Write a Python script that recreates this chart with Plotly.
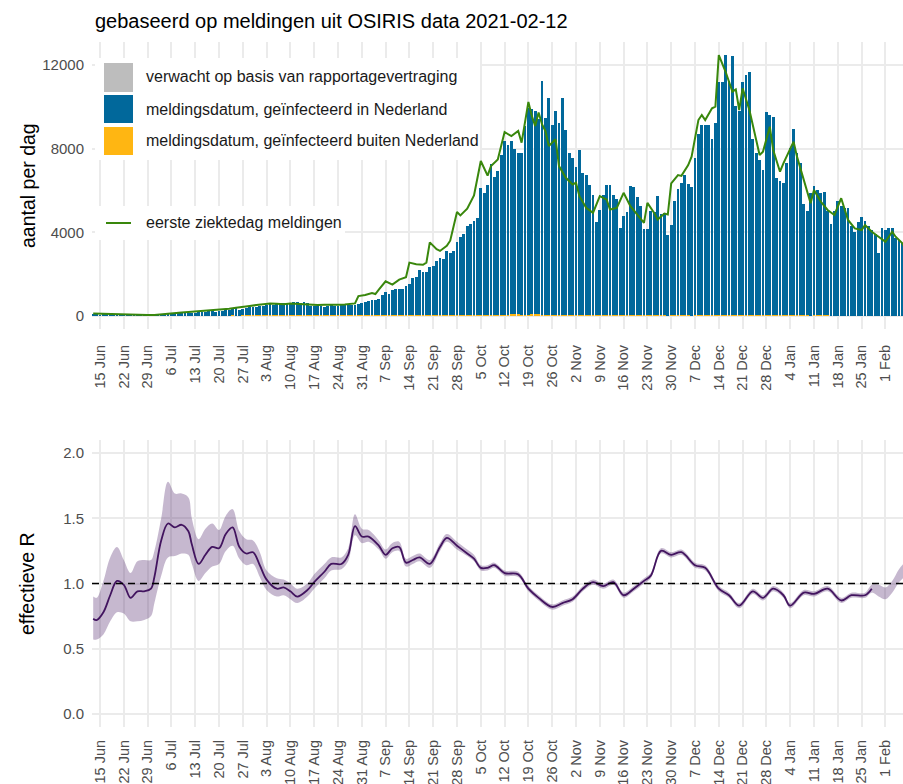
import pandas as pd
import plotly.graph_objects as go

FONT = "Liberation Sans"
W, H = 903, 784
L = 92  # left margin in px

# ---- data ----
first_day = "2020-06-13"

# meldingsdatum, geinfecteerd in Nederland (per day from 13 Jun 2020)
nl_cases = [
    60, 50,
    40, 70, 60, 55, 80, 50, 45,
    40, 55, 60, 50, 65, 55, 40,
    45, 60, 70, 80, 90, 85, 70,
    100, 120, 130, 140, 150, 130, 120,
    150, 170, 160, 180, 200, 210, 180,
    200, 230, 260, 250, 300, 340, 290,
    330, 370, 390, 420, 400, 450, 440,
    480, 520, 500, 540, 580, 560, 520,
    600, 640, 630, 590, 620, 560, 450,
    430, 420, 440, 400, 450, 470, 440,
    420, 460, 480, 470, 460, 490, 530,
    560, 600, 650, 700, 720, 775, 935,
    1100, 1015, 1180, 1225, 1225, 1260, 1400,
    1500, 1775, 1820, 2145, 2030, 2065, 2305,
    2355, 2550, 2740, 2680, 3030, 2950, 3030,
    3480, 3710, 3840, 4240, 4355, 4480, 4650,
    6050, 5810, 6210, 7200, 6600, 6850, 7650,
    8290, 8130, 8320, 7940, 7730, 7730, 9000,
    9890, 9810, 9730, 9330, 11170, 9410, 10370,
    9090, 9730, 9170, 10370, 8850, 7730, 7490,
    7090, 7890, 6770, 6690, 6210, 5730, 4450,
    5010, 5730, 6210, 6210, 5730, 5570, 4160,
    4770, 4930, 6210, 6130, 5650, 5250, 4130,
    4130, 5010, 4930, 5730, 4830, 4910, 3870,
    4350, 5470, 6030, 6340, 6700, 6310, 6140,
    7540, 8660, 9130, 9090, 9130, 8450, 9210,
    11160, 11160, 12480, 11200, 12400, 10010, 9770,
    11160, 11520, 11640, 8420, 7780, 7460, 6980,
    9720, 9610, 9500, 6580, 6420, 6340, 7300,
    8000, 8930, 7780, 7300, 5310, 4990, 5870,
    6180, 6000, 5850, 5900, 5000, 4400, 5000,
    5470, 5230, 5140, 5150, 4280, 4000, 4500,
    4700, 4530, 4300, 4100, 3900, 3000, 4200,
    4100, 4200, 4200, 3700, 3600, 3500,
]

# meldingsdatum, geinfecteerd buiten Nederland
abroad_cases = [
    3, 3,
    4, 4, 5, 5, 4, 3, 3,
    4, 5, 5, 6, 5, 4, 4,
    5, 6, 6, 7, 8, 7, 6,
    8, 9, 10, 10, 12, 10, 9,
    12, 14, 15, 15, 16, 14, 12,
    15, 18, 20, 20, 22, 20, 18,
    22, 25, 28, 30, 30, 28, 25,
    30, 35, 35, 38, 40, 38, 35,
    40, 42, 45, 45, 45, 40, 35,
    40, 42, 45, 45, 45, 42, 40,
    42, 45, 45, 48, 48, 45, 42,
    45, 48, 50, 50, 52, 50, 48,
    50, 52, 52, 55, 55, 52, 50,
    52, 54, 55, 55, 56, 54, 52,
    54, 55, 56, 56, 58, 56, 55,
    56, 58, 60, 60, 60, 58, 56,
    60, 62, 64, 66, 68, 64, 60,
    66, 68, 70, 70, 70, 66, 64,
    68, 70, 70, 70, 68, 64, 60,
    64, 65, 64, 62, 60, 55, 52,
    50, 48, 46, 44, 42, 40, 38,
    38, 36, 35, 35, 34, 32, 30,
    30, 30, 30, 28, 28, 26, 25,
    25, 25, 24, 24, 24, 22, 20,
    22, 22, 24, 24, 24, 22, 20,
    22, 24, 25, 25, 25, 24, 22,
    24, 25, 26, 27, 27, 26, 25,
    25, 26, 27, 26, 24, 22, 22,
    24, 26, 27, 27, 24, 22, 22,
    25, 27, 28, 26, 25, 22, 20,
    22, 24, 24, 22, 22, 20, 18,
    19, 20, 20, 19, 19, 16, 15,
    16, 18, 18, 16, 16, 13, 13,
    15, 15, 15, 15, 13, 12,
]

# eerste ziektedag meldingen
illness_dates = [
    "2020-06-13", "2020-06-15", "2020-06-17", "2020-06-19", "2020-06-21",
    "2020-06-23", "2020-06-25", "2020-06-27", "2020-06-29", "2020-07-01",
    "2020-07-03", "2020-07-05", "2020-07-07", "2020-07-09", "2020-07-11",
    "2020-07-13", "2020-07-15", "2020-07-17", "2020-07-19", "2020-07-21",
    "2020-07-23", "2020-07-25", "2020-07-27", "2020-07-29", "2020-07-31",
    "2020-08-02", "2020-08-04", "2020-08-06", "2020-08-08", "2020-08-10",
    "2020-08-12", "2020-08-14", "2020-08-16", "2020-08-18", "2020-08-20",
    "2020-08-22", "2020-08-24", "2020-08-26", "2020-08-28", "2020-08-29",
    "2020-08-30", "2020-09-01", "2020-09-03", "2020-09-04", "2020-09-05",
    "2020-09-07", "2020-09-09", "2020-09-11", "2020-09-13", "2020-09-14",
    "2020-09-16", "2020-09-18", "2020-09-19", "2020-09-20", "2020-09-22",
    "2020-09-23", "2020-09-25", "2020-09-26", "2020-09-28", "2020-09-29",
    "2020-10-01", "2020-10-03", "2020-10-05", "2020-10-07", "2020-10-08",
    "2020-10-10", "2020-10-12", "2020-10-14", "2020-10-16", "2020-10-17",
    "2020-10-19", "2020-10-20", "2020-10-21", "2020-10-22", "2020-10-23",
    "2020-10-24", "2020-10-25", "2020-10-27", "2020-10-28", "2020-10-30",
    "2020-11-01", "2020-11-02", "2020-11-03", "2020-11-05", "2020-11-07",
    "2020-11-09", "2020-11-11", "2020-11-12", "2020-11-14", "2020-11-16",
    "2020-11-18", "2020-11-20", "2020-11-22", "2020-11-23", "2020-11-25",
    "2020-11-26", "2020-11-28", "2020-11-29", "2020-11-30", "2020-12-02",
    "2020-12-03", "2020-12-05", "2020-12-06", "2020-12-08", "2020-12-09",
    "2020-12-10", "2020-12-12", "2020-12-13", "2020-12-14", "2020-12-16",
    "2020-12-18", "2020-12-19", "2020-12-20", "2020-12-21", "2020-12-23",
    "2020-12-25", "2020-12-26", "2020-12-27", "2020-12-29", "2020-12-30",
    "2021-01-01", "2021-01-02", "2021-01-05", "2021-01-06", "2021-01-08",
    "2021-01-10", "2021-01-11", "2021-01-13", "2021-01-15", "2021-01-17",
    "2021-01-19", "2021-01-21", "2021-01-23", "2021-01-25", "2021-01-26",
    "2021-01-28", "2021-01-30", "2021-02-01", "2021-02-03", "2021-02-04",
    "2021-02-06", "2021-02-07",
]
illness_cases = [
    120, 110, 95, 100, 60,
    50, 40, 35, 40, 50,
    70, 90, 130, 160, 190,
    210, 240, 260, 280, 300,
    340, 390, 450, 480, 520,
    560, 600, 580, 560, 590,
    570, 580, 540, 520, 530,
    520, 540, 550, 560, 600,
    950, 1000, 1100, 1050, 1260,
    1660, 1500, 1740, 1850, 2550,
    2470, 2450, 2550, 3520, 3190,
    3110, 3350, 3600, 4970, 4810,
    5130, 5770, 7410, 6710, 7170,
    7490, 8800, 8600, 8850, 8290,
    10240, 9570, 9090, 9730, 9170,
    8850, 8130, 8450, 7170, 6610,
    6290, 6370, 5730, 5170, 4930,
    5730, 5570, 5090, 5170, 5890,
    5250, 4850, 4450, 5410, 4930,
    4610, 4900, 4850, 6340, 6740,
    6700, 7220, 7620, 9370, 9610,
    9370, 9930, 10010, 12480, 11680,
    10730, 10840, 9850, 10890, 9850,
    8420, 7700, 7860, 9050, 7940,
    6900, 7300, 8340, 7620, 6500,
    5390, 6030, 5470, 5070, 4830,
    5630, 4590, 4190, 4110, 4350,
    4030, 3790, 3550, 4030, 3790,
    3470, 3150,
]

# effectieve R with its interval (last points: interval only)
r_dates = [
    "2020-06-13", "2020-06-14", "2020-06-16", "2020-06-18", "2020-06-20",
    "2020-06-22", "2020-06-24", "2020-06-26", "2020-06-28", "2020-06-30",
    "2020-07-01", "2020-07-03", "2020-07-05", "2020-07-07", "2020-07-09",
    "2020-07-11", "2020-07-12", "2020-07-14", "2020-07-16", "2020-07-18",
    "2020-07-20", "2020-07-22", "2020-07-24", "2020-07-26", "2020-07-28",
    "2020-07-30", "2020-08-01", "2020-08-03", "2020-08-06", "2020-08-08",
    "2020-08-10", "2020-08-12", "2020-08-15", "2020-08-17", "2020-08-20",
    "2020-08-22", "2020-08-25", "2020-08-27", "2020-08-29", "2020-08-31",
    "2020-09-02", "2020-09-05", "2020-09-07", "2020-09-09", "2020-09-11",
    "2020-09-13", "2020-09-15", "2020-09-17", "2020-09-20", "2020-09-23",
    "2020-09-25", "2020-09-28", "2020-10-01", "2020-10-03", "2020-10-05",
    "2020-10-07", "2020-10-09", "2020-10-12", "2020-10-16", "2020-10-19",
    "2020-10-22", "2020-10-26", "2020-10-29", "2020-11-01", "2020-11-04",
    "2020-11-07", "2020-11-10", "2020-11-13", "2020-11-16", "2020-11-19",
    "2020-11-22", "2020-11-24", "2020-11-27", "2020-11-30", "2020-12-03",
    "2020-12-07", "2020-12-10", "2020-12-14", "2020-12-17", "2020-12-20",
    "2020-12-24", "2020-12-27", "2020-12-30", "2021-01-02", "2021-01-04",
    "2021-01-08", "2021-01-11", "2021-01-15", "2021-01-19", "2021-01-22",
    "2021-01-26", "2021-01-28", "2021-01-30", "2021-02-01", "2021-02-03",
    "2021-02-05", "2021-02-07",
]
r_mid = [
    0.73, 0.72, 0.78, 0.91, 1.02,
    0.99, 0.89, 0.94, 0.94, 0.96,
    1.05, 1.33, 1.46, 1.43, 1.45,
    1.40, 1.30, 1.15, 1.22, 1.28,
    1.27, 1.38, 1.43, 1.28, 1.23,
    1.24, 1.14, 1.03, 0.96, 0.97,
    0.94, 0.90, 0.95, 1.01, 1.09,
    1.15, 1.15, 1.22, 1.44, 1.36,
    1.36, 1.29, 1.22, 1.27, 1.28,
    1.16, 1.18, 1.20, 1.15, 1.28,
    1.35, 1.29, 1.23, 1.19, 1.12,
    1.12, 1.14, 1.08, 1.07, 0.96,
    0.89, 0.82, 0.85, 0.88, 0.96,
    1.01, 0.98, 1.01, 0.91, 0.96,
    1.02, 1.06, 1.25, 1.22, 1.24,
    1.14, 1.12, 0.96, 0.91, 0.83,
    0.94, 0.89, 0.96, 0.91, 0.83,
    0.93, 0.92, 0.96, 0.87, 0.91,
    0.91, 0.96, None, None, None,
    None, None,
]
r_lo = [
    0.57, 0.57, 0.61, 0.71, 0.78,
    0.77, 0.71, 0.71, 0.72, 0.75,
    0.85, 1.06, 1.20, 1.21, 1.23,
    1.22, 1.15, 1.02, 1.08, 1.13,
    1.15, 1.25, 1.29, 1.19, 1.14,
    1.15, 1.05, 0.95, 0.90, 0.91,
    0.88, 0.85, 0.90, 0.96, 1.04,
    1.10, 1.11, 1.17, 1.37, 1.31,
    1.32, 1.26, 1.19, 1.24, 1.25,
    1.13, 1.15, 1.17, 1.12, 1.25,
    1.32, 1.26, 1.21, 1.17, 1.10,
    1.10, 1.12, 1.06, 1.05, 0.94,
    0.87, 0.80, 0.83, 0.86, 0.94,
    0.99, 0.96, 0.99, 0.89, 0.94,
    1.00, 1.04, 1.23, 1.20, 1.22,
    1.12, 1.10, 0.94, 0.89, 0.81,
    0.92, 0.87, 0.94, 0.89, 0.81,
    0.91, 0.90, 0.94, 0.85, 0.89,
    0.89, 0.93, 0.90, 0.88, 0.93,
    1.01, 1.06,
]
r_hi = [
    0.90, 0.89, 1.02, 1.20, 1.28,
    1.18, 1.08, 1.17, 1.18, 1.18,
    1.25, 1.50, 1.78, 1.69, 1.69,
    1.66, 1.50, 1.34, 1.42, 1.46,
    1.41, 1.52, 1.57, 1.40, 1.34,
    1.33, 1.24, 1.10, 1.04, 1.03,
    1.00, 0.96, 1.00, 1.07, 1.15,
    1.20, 1.20, 1.27, 1.53, 1.42,
    1.41, 1.33, 1.26, 1.31, 1.32,
    1.19, 1.21, 1.23, 1.18, 1.31,
    1.38, 1.32, 1.26, 1.22, 1.14,
    1.14, 1.16, 1.10, 1.09, 0.98,
    0.91, 0.84, 0.87, 0.90, 0.98,
    1.03, 1.00, 1.03, 0.93, 0.98,
    1.04, 1.08, 1.27, 1.24, 1.26,
    1.16, 1.14, 0.98, 0.93, 0.85,
    0.96, 0.91, 0.98, 0.93, 0.85,
    0.95, 0.94, 0.98, 0.89, 0.93,
    0.93, 0.99, 0.99, 0.97, 1.02,
    1.11, 1.17,
]

days = pd.date_range(first_day, periods=len(nl_cases), freq="D")

x_range = ["2020-06-12 15:30", "2021-02-06 04:15"]


def px_x(p):
    return (p - L) / (W - L)


def px_y(p):
    return 1 - p / H


fig = go.Figure()

# ---- top panel: bars + illness-onset line ----
fig.add_trace(go.Bar(x=days, y=abroad_cases, marker=dict(color="#FFB612", line_width=0),
                     xaxis="x", yaxis="y", showlegend=False))
fig.add_trace(go.Bar(x=days, y=nl_cases, marker=dict(color="#01689B", line_width=0),
                     xaxis="x", yaxis="y", showlegend=False))
fig.add_trace(go.Scatter(x=illness_dates, y=illness_cases, mode="lines",
                         line=dict(color="#39870C", width=2),
                         xaxis="x", yaxis="y", showlegend=False))

# ---- bottom panel: effective R ----
fig.add_trace(go.Scatter(x=r_dates, y=r_hi, mode="lines", line=dict(width=0, shape="spline"),
                         xaxis="x2", yaxis="y2", showlegend=False))
fig.add_trace(go.Scatter(x=r_dates, y=r_lo, mode="lines", line=dict(width=0, shape="spline"),
                         fill="tonexty", fillcolor="rgba(66,20,95,0.3)",
                         xaxis="x2", yaxis="y2", showlegend=False))
fig.add_trace(go.Scatter(x=r_dates, y=r_mid, mode="lines",
                         line=dict(color="#42145F", width=1.8, shape="spline"),
                         connectgaps=False, xaxis="x2", yaxis="y2", showlegend=False))

fig.add_shape(type="line", xref="x2 domain", yref="y2", x0=0, x1=1, y0=1, y1=1,
              line=dict(color="black", width=1.5, dash="7px,5px"), layer="above")

# ---- hand-made legend ----
for x0, x1, y0, y1 in [(95, 480, 58, 160), (95, 345, 206, 240)]:
    fig.add_shape(type="rect", xref="paper", yref="paper",
                  x0=px_x(x0), x1=px_x(x1), y0=px_y(y1), y1=px_y(y0),
                  fillcolor="white", line_width=0, layer="above")

legend_items = [
    ("#BDBDBD", 63, 92, 77, "verwacht op basis van rapportagevertraging"),
    ("#01689B", 95, 123, 109, "meldingsdatum, geïnfecteerd in Nederland"),
    ("#FFB612", 127, 155, 141, "meldingsdatum, geïnfecteerd buiten Nederland"),
]
for color, top, bottom, mid, label in legend_items:
    fig.add_shape(type="rect", xref="paper", yref="paper",
                  x0=px_x(104), x1=px_x(133), y0=px_y(bottom), y1=px_y(top),
                  fillcolor=color, line_width=0, layer="above")
    fig.add_annotation(x=px_x(144), y=px_y(mid), xref="paper", yref="paper",
                       text=label, showarrow=False, xanchor="left", yanchor="middle",
                       font=dict(size=16, color="#1a1a1a"))

fig.add_shape(type="line", xref="paper", yref="paper",
              x0=px_x(106), x1=px_x(131), y0=px_y(223), y1=px_y(223),
              line=dict(color="#39870C", width=2), layer="above")
fig.add_annotation(x=px_x(144), y=px_y(223), xref="paper", yref="paper",
                   text="eerste ziektedag meldingen", showarrow=False,
                   xanchor="left", yanchor="middle", font=dict(size=16, color="#1a1a1a"))

# ---- titles ----
fig.add_annotation(x=px_x(93), y=px_y(21), xref="paper", yref="paper",
                   text="gebaseerd op meldingen uit OSIRIS data 2021-02-12",
                   showarrow=False, xanchor="left", yanchor="middle",
                   font=dict(size=20, color="black"))
fig.add_annotation(x=px_x(28), y=px_y(186), xref="paper", yref="paper",
                   text="aantal per dag", textangle=-90, showarrow=False,
                   xanchor="center", yanchor="middle", font=dict(size=19.5, color="black"))
fig.add_annotation(x=px_x(27), y=px_y(584), xref="paper", yref="paper",
                   text="effectieve R", textangle=-90, showarrow=False,
                   xanchor="center", yanchor="middle", font=dict(size=19.5, color="black"))

grid = "#EBEBEB"
xaxis_common = dict(
    type="date",
    range=x_range,
    tickmode="linear",
    tick0="2020-06-15",
    dtick=7 * 86400000,
    tickformat="%-d %b",
    tickangle=-90,
    tickfont=dict(size=14.5, color="#4D4D4D"),
    showgrid=True,
    gridcolor=grid,
    gridwidth=1.5,
    zeroline=False,
    showline=False,
    ticks="",
    automargin=False,
)
yaxis_common = dict(
    showgrid=True,
    gridcolor=grid,
    gridwidth=1.5,
    zeroline=False,
    showline=False,
    ticks="",
    tickfont=dict(size=15, color="#4D4D4D"),
    ticklabelstandoff=7,
    automargin=False,
)

fig.update_layout(
    width=W,
    height=H,
    margin=dict(l=L, r=0, t=0, b=0),
    paper_bgcolor="white",
    plot_bgcolor="white",
    font=dict(family=FONT, color="#4D4D4D"),
    barmode="stack",
    bargap=0.18,
    showlegend=False,
    xaxis=dict(anchor="y", ticklabelstandoff=12, **xaxis_common),
    xaxis2=dict(anchor="y2", ticklabelstandoff=9, **xaxis_common),
    yaxis=dict(anchor="x", domain=[px_y(329), px_y(42)], range=[-624, 13104],
               tickvals=[0, 4000, 8000, 12000], tickformat="d", **yaxis_common),
    yaxis2=dict(anchor="x2", domain=[px_y(727), px_y(440)], range=[-0.1, 2.1],
                tickvals=[0, 0.5, 1.0, 1.5, 2.0], tickformat=".1f", **yaxis_common),
)

# the page's default body margin would shift the figure by 8 px
fig.write_html("out.html", config={"displayModeBar": False},
               post_script="document.body.style.margin = '0';")
